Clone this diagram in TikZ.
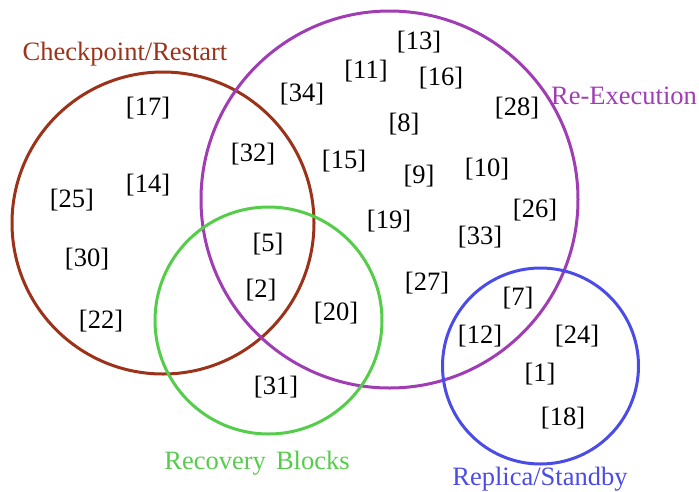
\documentclass[tikz,border=0pt]{standalone}
\usepackage{fontspec}
\setmainfont{Liberation Serif}
\definecolor{crcol}{RGB}{155,50,25}
\definecolor{recol}{RGB}{160,60,180}
\definecolor{rbcol}{RGB}{85,205,75}
\definecolor{rscol}{RGB}{75,75,230}
\newlength{\ringr}
\tikzset{
  setring/.style={circle, draw=#1, line width=3pt, minimum size=2*\ringr, inner sep=0pt},
  ref/.style={inner sep=0pt, yshift=-1.5pt, font=\fontsize{26.5}{30}\selectfont},
  setlabel/.style={inner sep=0pt, yshift=-1pt, text=#1, font=\fontsize{26.5}{30}\selectfont},
}
\begin{document}
\begin{tikzpicture}[x=1pt,y=-1pt]
\useasboundingbox (0,0) rectangle (699,491);
% the four sets
\setlength{\ringr}{151pt}
\node[setring=crcol] (cr) at (163,223) {};
\setlength{\ringr}{188.5pt}
\node[setring=recol] (re) at (389.5,199.5) {};
\setlength{\ringr}{113.5pt}
\node[setring=rbcol] (rb) at (268.5,320.5) {};
\setlength{\ringr}{98pt}
\node[setring=rscol] (rs) at (540.5,366) {};
% set names
\node[setlabel=crcol] (lcr) at (125,53) {Checkpoint/Restart};
\node[setlabel=recol] (lre) at (624,95) {Re-Execution};
\node[setlabel=rbcol] (lrb) at (257,462) {Recovery\hspace{0.38em}Blocks};
\node[setlabel=rscol] (lrs) at (540,478) {Replica/Standby};
% references
\node[ref] (r13) at (419,41) {[13]};
\node[ref] (r11) at (366,70) {[11]};
\node[ref] (r16) at (441,77) {[16]};
\node[ref] (r34) at (302,93) {[34]};
\node[ref] (r28) at (517,107) {[28]};
\node[ref] (r17) at (148,107) {[17]};
\node[ref] (r8) at (404,123) {[8]};
\node[ref] (r32) at (253,153) {[32]};
\node[ref] (r15) at (344,160) {[15]};
\node[ref] (r9) at (419,175) {[9]};
\node[ref] (r10) at (487,168) {[10]};
\node[ref] (r14) at (148,184) {[14]};
\node[ref] (r25) at (72,199) {[25]};
\node[ref] (r26) at (535,209) {[26]};
\node[ref] (r19) at (389,220) {[19]};
\node[ref] (r33) at (480,236) {[33]};
\node[ref] (r5) at (268,243) {[5]};
\node[ref] (r30) at (87,258) {[30]};
\node[ref] (r27) at (427,282) {[27]};
\node[ref] (r2) at (261,289) {[2]};
\node[ref] (r7) at (518,297) {[7]};
\node[ref] (r20) at (336,312) {[20]};
\node[ref] (r22) at (101,320) {[22]};
\node[ref] (r12) at (480,335) {[12]};
\node[ref] (r24) at (577,335) {[24]};
\node[ref] (r1) at (540,373) {[1]};
\node[ref] (r31) at (276,386) {[31]};
\node[ref] (r18) at (563,417) {[18]};
\end{tikzpicture}
\end{document}
